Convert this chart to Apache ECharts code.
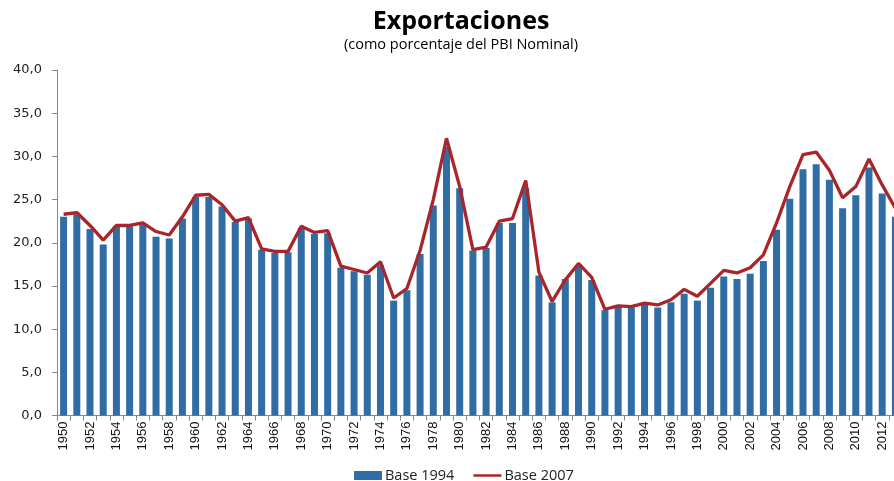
<!DOCTYPE html>
<html><head><meta charset="utf-8">
<script src="https://cdn.jsdelivr.net/npm/echarts@6/dist/echarts.min.js"></script>
<style>html,body{margin:0;padding:0;background:#fff;overflow:hidden}#c{width:902px;height:481px}</style>
</head><body><div id="c"></div>
<script>
var years = [];
for (var y = 1950; y <= 2013; y++) years.push(String(y));
var base1994 = [23.0,23.3,21.6,19.8,21.9,21.9,22.1,20.7,20.5,22.8,
  25.3,25.3,24.2,22.4,22.8,19.2,18.8,18.9,21.7,21.0,
  21.1,17.1,16.7,16.3,17.4,13.3,14.5,18.7,24.3,31.1,
  26.3,19.1,19.4,22.3,22.3,26.3,16.2,13.1,15.8,17.3,
  15.7,12.2,12.6,12.5,12.8,12.5,13.1,14.1,13.3,14.8,
  16.1,15.8,16.4,17.9,21.5,25.1,28.5,29.1,27.3,24.0,
  25.5,28.7,25.7,23.0];
var base2007 = [23.3,23.5,22.0,20.3,22.0,22.0,22.3,21.3,20.9,23.0,
  25.5,25.6,24.4,22.5,22.9,19.3,19.0,19.0,21.9,21.2,
  21.4,17.3,16.9,16.5,17.8,13.6,14.7,19.1,25.0,32.1,
  26.5,19.2,19.5,22.5,22.8,27.2,16.6,13.2,15.7,17.6,
  16.0,12.3,12.7,12.6,13.0,12.8,13.4,14.6,13.8,15.3,
  16.8,16.5,17.1,18.6,22.3,26.5,30.2,30.5,28.4,25.2,
  26.5,29.7,26.7,24.0];
var yTicks = [0,5,10,15,20,25,30,35,40];

var chart = echarts.init(document.getElementById('c'));
chart.setOption({
  animation: false,
  backgroundColor: '#fff',
  title: {
    text: 'Exportaciones',
    subtext: '(como porcentaje del PBI Nominal)',
    left: 456, top: 4, textAlign: 'center', itemGap: 3,
    textStyle: {fontFamily: 'Open Sans', fontWeight: 'bold', fontSize: 25, color: '#000'},
    subtextStyle: {fontFamily: 'Open Sans', fontSize: 14.5, color: '#000'}
  },
  legend: {
    top: 463, left: 349,
    itemWidth: 28, itemHeight: 9, itemGap: 19,
    textStyle: {fontFamily: 'Open Sans', fontSize: 14.5, color: '#222', padding: [0, 0, 0, -2]},
    data: [{name: 'Base 1994', icon: 'rect'}, {name: 'Base 2007', icon: 'path://M0,4 L28,4 L28,6.5 L0,6.5 Z'}]
  },
  grid: {left: 57, right: 0, top: 70, bottom: 65.5, containLabel: false},
  xAxis: {
    type: 'category', data: years, boundaryGap: true,
    axisLine: {lineStyle: {color: '#888', width: 1}},
    axisTick: {show: true, interval: 0, length: 5, lineStyle: {color: '#888'}},
    axisLabel: {rotate: 90, interval: 1, fontFamily: 'Liberation Sans', fontSize: 13, color: '#111', margin: 6}
  },
  yAxis: {
    type: 'value', min: yTicks[0], max: yTicks[yTicks.length-1], interval: 5,
    splitLine: {show: false},
    axisLine: {show: true, lineStyle: {color: '#888'}},
    axisTick: {show: true, length: 5, lineStyle: {color: '#888'}},
    axisLabel: {fontFamily: 'DejaVu Sans', fontSize: 13, color: '#222', margin: 15,
      formatter: function (v) { return v.toFixed(1).replace('.', ','); }}
  },
  series: [
    {name: 'Base 1994', type: 'bar', data: base1994, barWidth: 7,
      itemStyle: {color: '#2f6da4'}},
    {name: 'Base 2007', type: 'line', data: base2007, symbol: 'none',
      lineStyle: {color: '#a8262b', width: 3.3}, itemStyle: {color: '#a8262b'}}
  ]
});
</script></body></html>
